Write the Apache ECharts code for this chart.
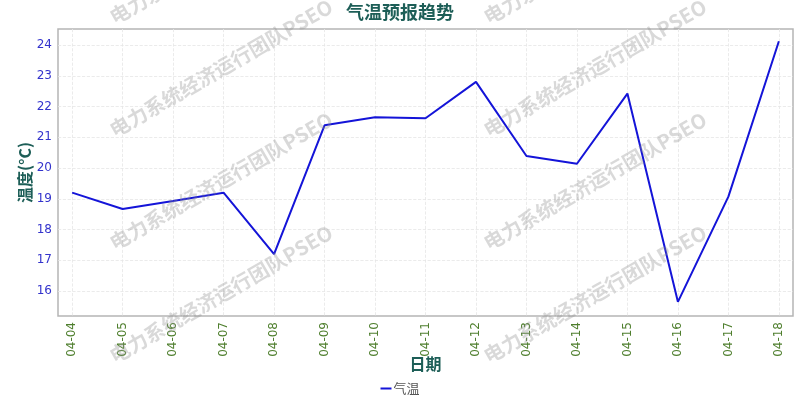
<!DOCTYPE html>
<html>
<head>
<meta charset="utf-8">
<script src="https://cdn.jsdelivr.net/npm/echarts@6/dist/echarts.min.js"></script>
<style>html,body{margin:0;padding:0;background:#fff}#c{width:800px;height:400px}</style>
</head>
<body>
<div id="c"></div>
<script>
var dates = ['04-04','04-05','04-06','04-07','04-08','04-09','04-10','04-11','04-12','04-13','04-14','04-15','04-16','04-17','04-18'];
var temps = [19.2, 18.67, 18.93, 19.2, 17.2, 21.39, 21.65, 21.62, 22.8, 20.39, 20.14, 22.42, 15.65, 19.07, 24.12];
var yTicks = [16, 17, 18, 19, 20, 21, 22, 23, 24];
var seriesName = '气温';
var titleText = '气温预报趋势';
var xName = '日期';
var yName = '温度(°C)';
var watermarkText = '电力系统经济运行团队PSEO';

var xIdx = dates.map(function (d, i) { return i; });
var points = temps.map(function (v, i) { return [i, v]; });

var teal = '#1d5e57';
var wm = [];
[221, 595].forEach(function (cx) {
  [-45, 68, 181, 294].forEach(function (cy) {
    wm.push({
      type: 'text', x: cx, y: cy, rotation: Math.PI / 6, z: 100, silent: true,
      style: { text: watermarkText, fill: 'rgba(140,140,140,0.33)', font: 'bold 20px "Noto Sans CJK SC"', align: 'center', verticalAlign: 'middle' }
    });
  });
});

var chart = echarts.init(document.getElementById('c'));
chart.setOption({
  animation: false,
  backgroundColor: '#fff',
  title: { text: titleText, left: 'center', top: -2, textStyle: { color: teal, fontSize: 18, fontWeight: 'bold', fontFamily: 'Noto Sans CJK SC' } },
  legend: {
    data: [seriesName], left: 'center', top: 377, itemWidth: 11, itemHeight: 2, itemGap: 2, icon: 'rect',
    textStyle: { color: '#555', fontSize: 13, fontFamily: 'Noto Sans CJK SC', padding: [0, 0, 0, -3] }
  },
  grid: { left: 58, right: 7, top: 29, bottom: 84, show: true, borderColor: '#b5b5b5', borderWidth: 1.5, containLabel: false },
  xAxis: {
    type: 'value', min: -0.28, max: 14.28,
    name: xName, nameLocation: 'middle', nameGap: 40, nameMoveOverlap: false,
    nameTextStyle: { color: teal, fontSize: 16, fontWeight: 'bold', fontFamily: 'Noto Sans CJK SC' },
    axisLine: { show: false }, axisTick: { show: false, customValues: xIdx },
    axisLabel: {
      customValues: xIdx, rotate: 90, margin: 6, color: '#4f7f2e', fontSize: 12, fontFamily: 'DejaVu Sans',
      formatter: function (v) { return dates[Math.round(v)]; }
    },
    splitLine: { show: true, lineStyle: { color: '#e6e6e6', type: 'dashed', width: 0.8 } }
  },
  yAxis: {
    type: 'value', min: 15.19, max: 24.52,
    name: yName, nameLocation: 'middle', nameGap: 25, nameMoveOverlap: false,
    nameTextStyle: { color: teal, fontSize: 16, fontWeight: 'bold', fontFamily: 'Noto Sans CJK SC' },
    axisLine: { show: false }, axisTick: { show: false, customValues: yTicks },
    axisLabel: { customValues: yTicks, margin: 6, color: '#3333cc', fontSize: 12, fontFamily: 'DejaVu Sans' },
    splitLine: { show: true, lineStyle: { color: '#e6e6e6', type: 'dashed', width: 0.8 } }
  },
  series: [{
    name: seriesName, type: 'line', data: points, showSymbol: false, symbol: 'none',
    lineStyle: { color: '#1414d8', width: 2 }, itemStyle: { color: '#1414d8' }
  }],
  graphic: wm
});
</script>
</body>
</html>
